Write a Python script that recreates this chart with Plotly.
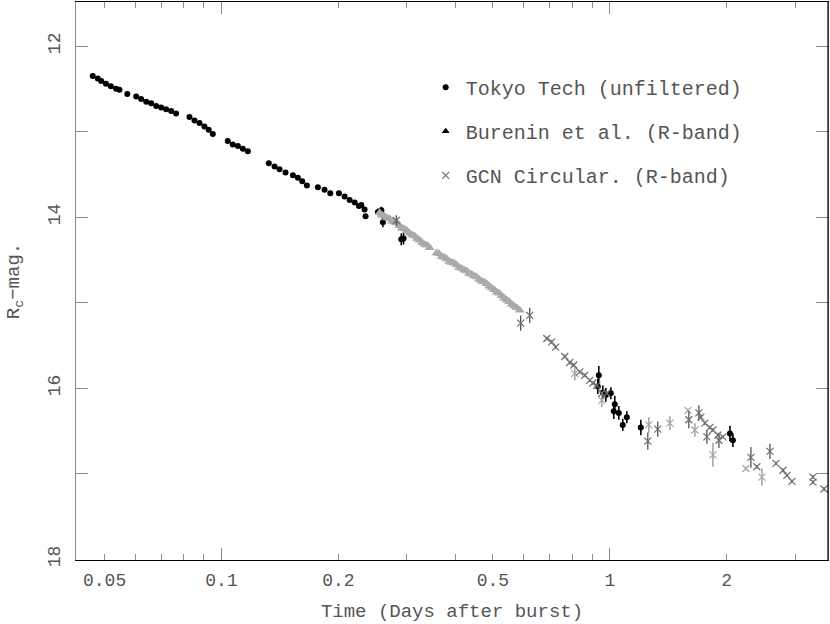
import numpy as np
import plotly.graph_objects as go

# ---------------- data ----------------
# Tokyo Tech (unfiltered)
tokyo_t = [0.0466, 0.0480, 0.0490, 0.0504, 0.0519, 0.0535, 0.0546, 0.0572,
           0.0603, 0.0621, 0.0640, 0.0659, 0.0679, 0.0699, 0.0720, 0.0742, 0.0764,
           0.0827, 0.0852, 0.0878, 0.0904, 0.0927, 0.0950,
           0.1038, 0.1069, 0.1102, 0.1135, 0.1169,
           0.1324, 0.1370, 0.1411, 0.1462,
           0.1527, 0.1573, 0.1614, 0.1659,
           0.1771, 0.1842, 0.1906,
           0.2006, 0.2075, 0.2138, 0.2203, 0.2259, 0.2291, 0.2336, 0.2350,
           0.2528, 0.2580, 0.2604, 0.2904, 0.2944,
           0.9367, 0.9313, 0.9594, 0.9766, 1.006, 1.030, 1.024, 1.055, 1.106, 1.080, 1.202,
           2.039, 2.075]
tokyo_m = [12.35, 12.38, 12.41, 12.44, 12.47, 12.50, 12.51, 12.56,
           12.59, 12.62, 12.65, 12.67, 12.70, 12.72, 12.74, 12.76, 12.79,
           12.83, 12.87, 12.90, 12.94, 12.98, 13.03,
           13.11, 13.15, 13.17, 13.20, 13.23,
           13.37, 13.41, 13.44, 13.48,
           13.51, 13.54, 13.58, 13.63,
           13.65, 13.68, 13.72,
           13.72, 13.76, 13.80, 13.83, 13.87, 13.86, 13.91, 13.99,
           13.94, 13.92, 14.06, 14.26, 14.25,
           15.85, 15.98, 16.05, 16.08, 16.06, 16.19, 16.27, 16.29, 16.34, 16.43, 16.46,
           16.53, 16.61]
tokyo_e = [0] * 47 + [0.04, 0.04, 0.06, 0.07, 0.07,
                      0.11, 0.09, 0.08, 0.08, 0.07, 0.10, 0.09, 0.08, 0.07, 0.07, 0.09,
                      0.09, 0.08]

# Burenin et al. (R-band)
burenin_t = [0.2554, 0.2592, 0.2630, 0.2670, 0.2710, 0.2750, 0.2792, 0.2834,
             0.2876, 0.2918, 0.2961, 0.3006, 0.3051, 0.3097, 0.3143, 0.3190,
             0.3238, 0.3287, 0.3336, 0.3386, 0.3437,
             0.3582, 0.3636, 0.3690, 0.3746, 0.3802, 0.3859, 0.3916, 0.3975,
             0.4034, 0.4095, 0.4156, 0.4218, 0.4280, 0.4345, 0.4410, 0.4476,
             0.4542, 0.4610, 0.4679, 0.4749, 0.4820, 0.4893, 0.4966, 0.5040,
             0.5116, 0.5191, 0.5267, 0.5347, 0.5427, 0.5508, 0.5590, 0.5674,
             0.5759, 0.5861]
burenin_m = [13.95, 13.98, 13.99, 14.01, 14.02, 14.05, 14.06, 14.07,
             14.10, 14.13, 14.14, 14.16, 14.19, 14.21, 14.22, 14.25,
             14.27, 14.30, 14.32, 14.33, 14.36,
             14.42, 14.43, 14.46, 14.47, 14.49, 14.52, 14.53, 14.54,
             14.56, 14.59, 14.60, 14.62, 14.63, 14.66, 14.67, 14.69,
             14.70, 14.73, 14.75, 14.76, 14.78, 14.81, 14.83, 14.85,
             14.88, 14.89, 14.92, 14.95, 14.97, 14.99, 15.02, 15.04,
             15.06, 15.09]

# GCN Circular (R-band), darker points
gcn_t = [0.2820, 0.5896, 0.6220, 0.6883, 0.7085, 0.7257, 0.7656, 0.7887, 0.8077,
         0.8369, 0.8621, 0.8881, 0.9042, 0.9258, 0.9537, 0.9824,
         1.253, 1.329, 1.598, 1.696, 1.716, 1.757, 1.778, 1.810, 1.843,
         1.898, 1.910, 1.955, 2.309, 2.393, 2.585, 2.679, 2.792, 2.859,
         2.945, 3.336, 3.336, 3.561]
gcn_m = [14.04, 15.24, 15.15, 15.42, 15.46, 15.52, 15.63, 15.70, 15.73,
         15.81, 15.85, 15.91, 15.94, 15.97, 16.06, 16.06,
         16.62, 16.48, 16.37, 16.29, 16.34, 16.41, 16.57, 16.46, 16.49,
         16.55, 16.61, 16.57, 16.81, 16.92, 16.74, 16.88, 16.96, 17.02,
         17.09, 17.04, 17.10, 17.18]
gcn_e = [0.06, 0.09, 0.09, 0.02, 0.02, 0.02, 0.02, 0.02, 0.02,
         0.02, 0.02, 0.02, 0.02, 0.02, 0.02, 0.02,
         0.10, 0.09, 0.10, 0.09, 0.02, 0.02, 0.08, 0.02, 0.02,
         0.02, 0.09, 0.02, 0.12, 0.02, 0.09, 0.02, 0.02, 0.02,
         0.02, 0.02, 0.02, 0.02]

# GCN Circular (R-band), lighter points
gcn2_t = [0.8126, 0.9537, 1.260, 1.428, 1.589, 1.656, 1.843, 2.241, 2.465]
gcn2_m = [15.83, 16.14, 16.43, 16.41, 16.26, 16.49, 16.78, 16.94, 17.04]
gcn2_e = [0.08, 0.08, 0.09, 0.08, 0.02, 0.08, 0.14, 0.02, 0.10]

x_labels = [0.05, 0.1, 0.2, 0.5, 1, 2]
x_minor = [0.05, 0.06, 0.07, 0.08, 0.09, 0.2, 0.3, 0.4, 0.5, 0.6, 0.7, 0.8, 0.9, 2, 3]
x_major = [0.1, 1]
y_major = [12, 14, 16, 18]
y_minor = [13, 15, 17]

# ---------------- figure ----------------
FONT = "Liberation Mono"
TXT = "#555555"
AX = "#8a8a8a"

fig = go.Figure()

fig.add_trace(go.Scatter(
    x=tokyo_t, y=tokyo_m, mode="markers", name="Tokyo Tech (unfiltered)",
    legendgroup="a",
    marker=dict(symbol="circle", size=6, color="black"),
    error_y=dict(type="data", array=tokyo_e, visible=True, color="black",
                 thickness=1.6, width=0),
))

fig.add_trace(go.Scatter(
    x=burenin_t, y=burenin_m, mode="markers", name="Burenin et al. (R-band)",
    legendgroup="b", showlegend=False,
    marker=dict(symbol="triangle-up", size=9, color="#aaaaaa"),
))
# legend entry (no points)
fig.add_trace(go.Scatter(
    x=[None], y=[None], mode="markers", name="Burenin et al. (R-band)",
    legendgroup="b", xaxis="x2",
    marker=dict(symbol="triangle-up", size=7, color="black"),
))

fig.add_trace(go.Scatter(
    x=gcn2_t, y=gcn2_m, mode="markers", name="GCN Circular. (R-band)",
    legendgroup="c", showlegend=False,
    marker=dict(symbol="x-thin", size=7, color="#a6a6a6",
                line=dict(width=1.2, color="#a6a6a6")),
    error_y=dict(type="data", array=gcn2_e, visible=True, color="#a6a6a6",
                 thickness=1.6, width=0),
))
fig.add_trace(go.Scatter(
    x=gcn_t, y=gcn_m, mode="markers", name="GCN Circular. (R-band)",
    legendgroup="c",
    marker=dict(symbol="x-thin", size=7, color="#6e6e6e",
                line=dict(width=1.2, color="#6e6e6e")),
    error_y=dict(type="data", array=gcn_e, visible=True, color="#444444",
                 thickness=1.2, width=0),
))

xr = [np.log10(0.0422), np.log10(3.647)]

fig.update_layout(
    width=830, height=624,
    margin=dict(l=76, r=2, t=2, b=64),
    paper_bgcolor="white", plot_bgcolor="white",
    font=dict(family=FONT, color=TXT, size=18),
    showlegend=True,
    legend=dict(
        x=0.465, y=0.882, xanchor="left", yanchor="top",
        bgcolor="rgba(0,0,0,0)", font=dict(family=FONT, size=20, color=TXT),
        traceorder="grouped", tracegroupgap=15, itemwidth=30,
    ),
    xaxis=dict(
        type="log", range=xr, autorange=False,
        tickmode="array", tickvals=x_labels,
        ticktext=[str(v) for v in x_labels],
        ticks="inside", ticklen=6, tickcolor=AX, tickwidth=1,
        minor=dict(tickmode="array", tickvals=x_minor, ticks="inside",
                   ticklen=6, tickcolor=AX, tickwidth=1, showgrid=False),
        showline=True, linecolor="black", linewidth=1, mirror="allticks",
        showgrid=False, zeroline=False, ticklabelstandoff=3,
        tickfont=dict(family=FONT, size=18, color=TXT),
        title=dict(text="Time (Days after burst)",
                   font=dict(family=FONT, size=19, color=TXT), standoff=14),
    ),
    xaxis2=dict(
        type="log", range=xr, autorange=False, overlaying="x", anchor="y",
        side="bottom", tickmode="array", tickvals=x_major,
        ticks="inside", ticklen=12, tickcolor=AX, tickwidth=1,
        showticklabels=False, showline=False, mirror="allticks",
        showgrid=False, zeroline=False,
    ),
    yaxis=dict(
        range=[18.01, 11.485], autorange=False,
        tickmode="array", tickvals=y_major,
        ticks="inside", ticklen=12, tickcolor=AX, tickwidth=1,
        minor=dict(tickmode="array", tickvals=y_minor, ticks="inside",
                   ticklen=6, tickcolor=AX, tickwidth=1, showgrid=False),
        showline=True, linecolor=AX, linewidth=1, mirror="allticks",
        showgrid=False, zeroline=False, tickangle=-90, ticklabelstandoff=8,
        tickfont=dict(family=FONT, size=18, color=TXT),
        title=dict(text="R<sub>c</sub>\u2212mag.",
                   font=dict(family=FONT, size=19, color=TXT), standoff=20),
    ),
    shapes=[dict(type="line", xref="paper", yref="paper", x0=1, x1=1, y0=0, y1=1,
                 line=dict(color="black", width=1.2), layer="above")],
)

fig.write_html("out.html", config={"displayModeBar": False},
               post_script="document.body.style.margin='0px';")
